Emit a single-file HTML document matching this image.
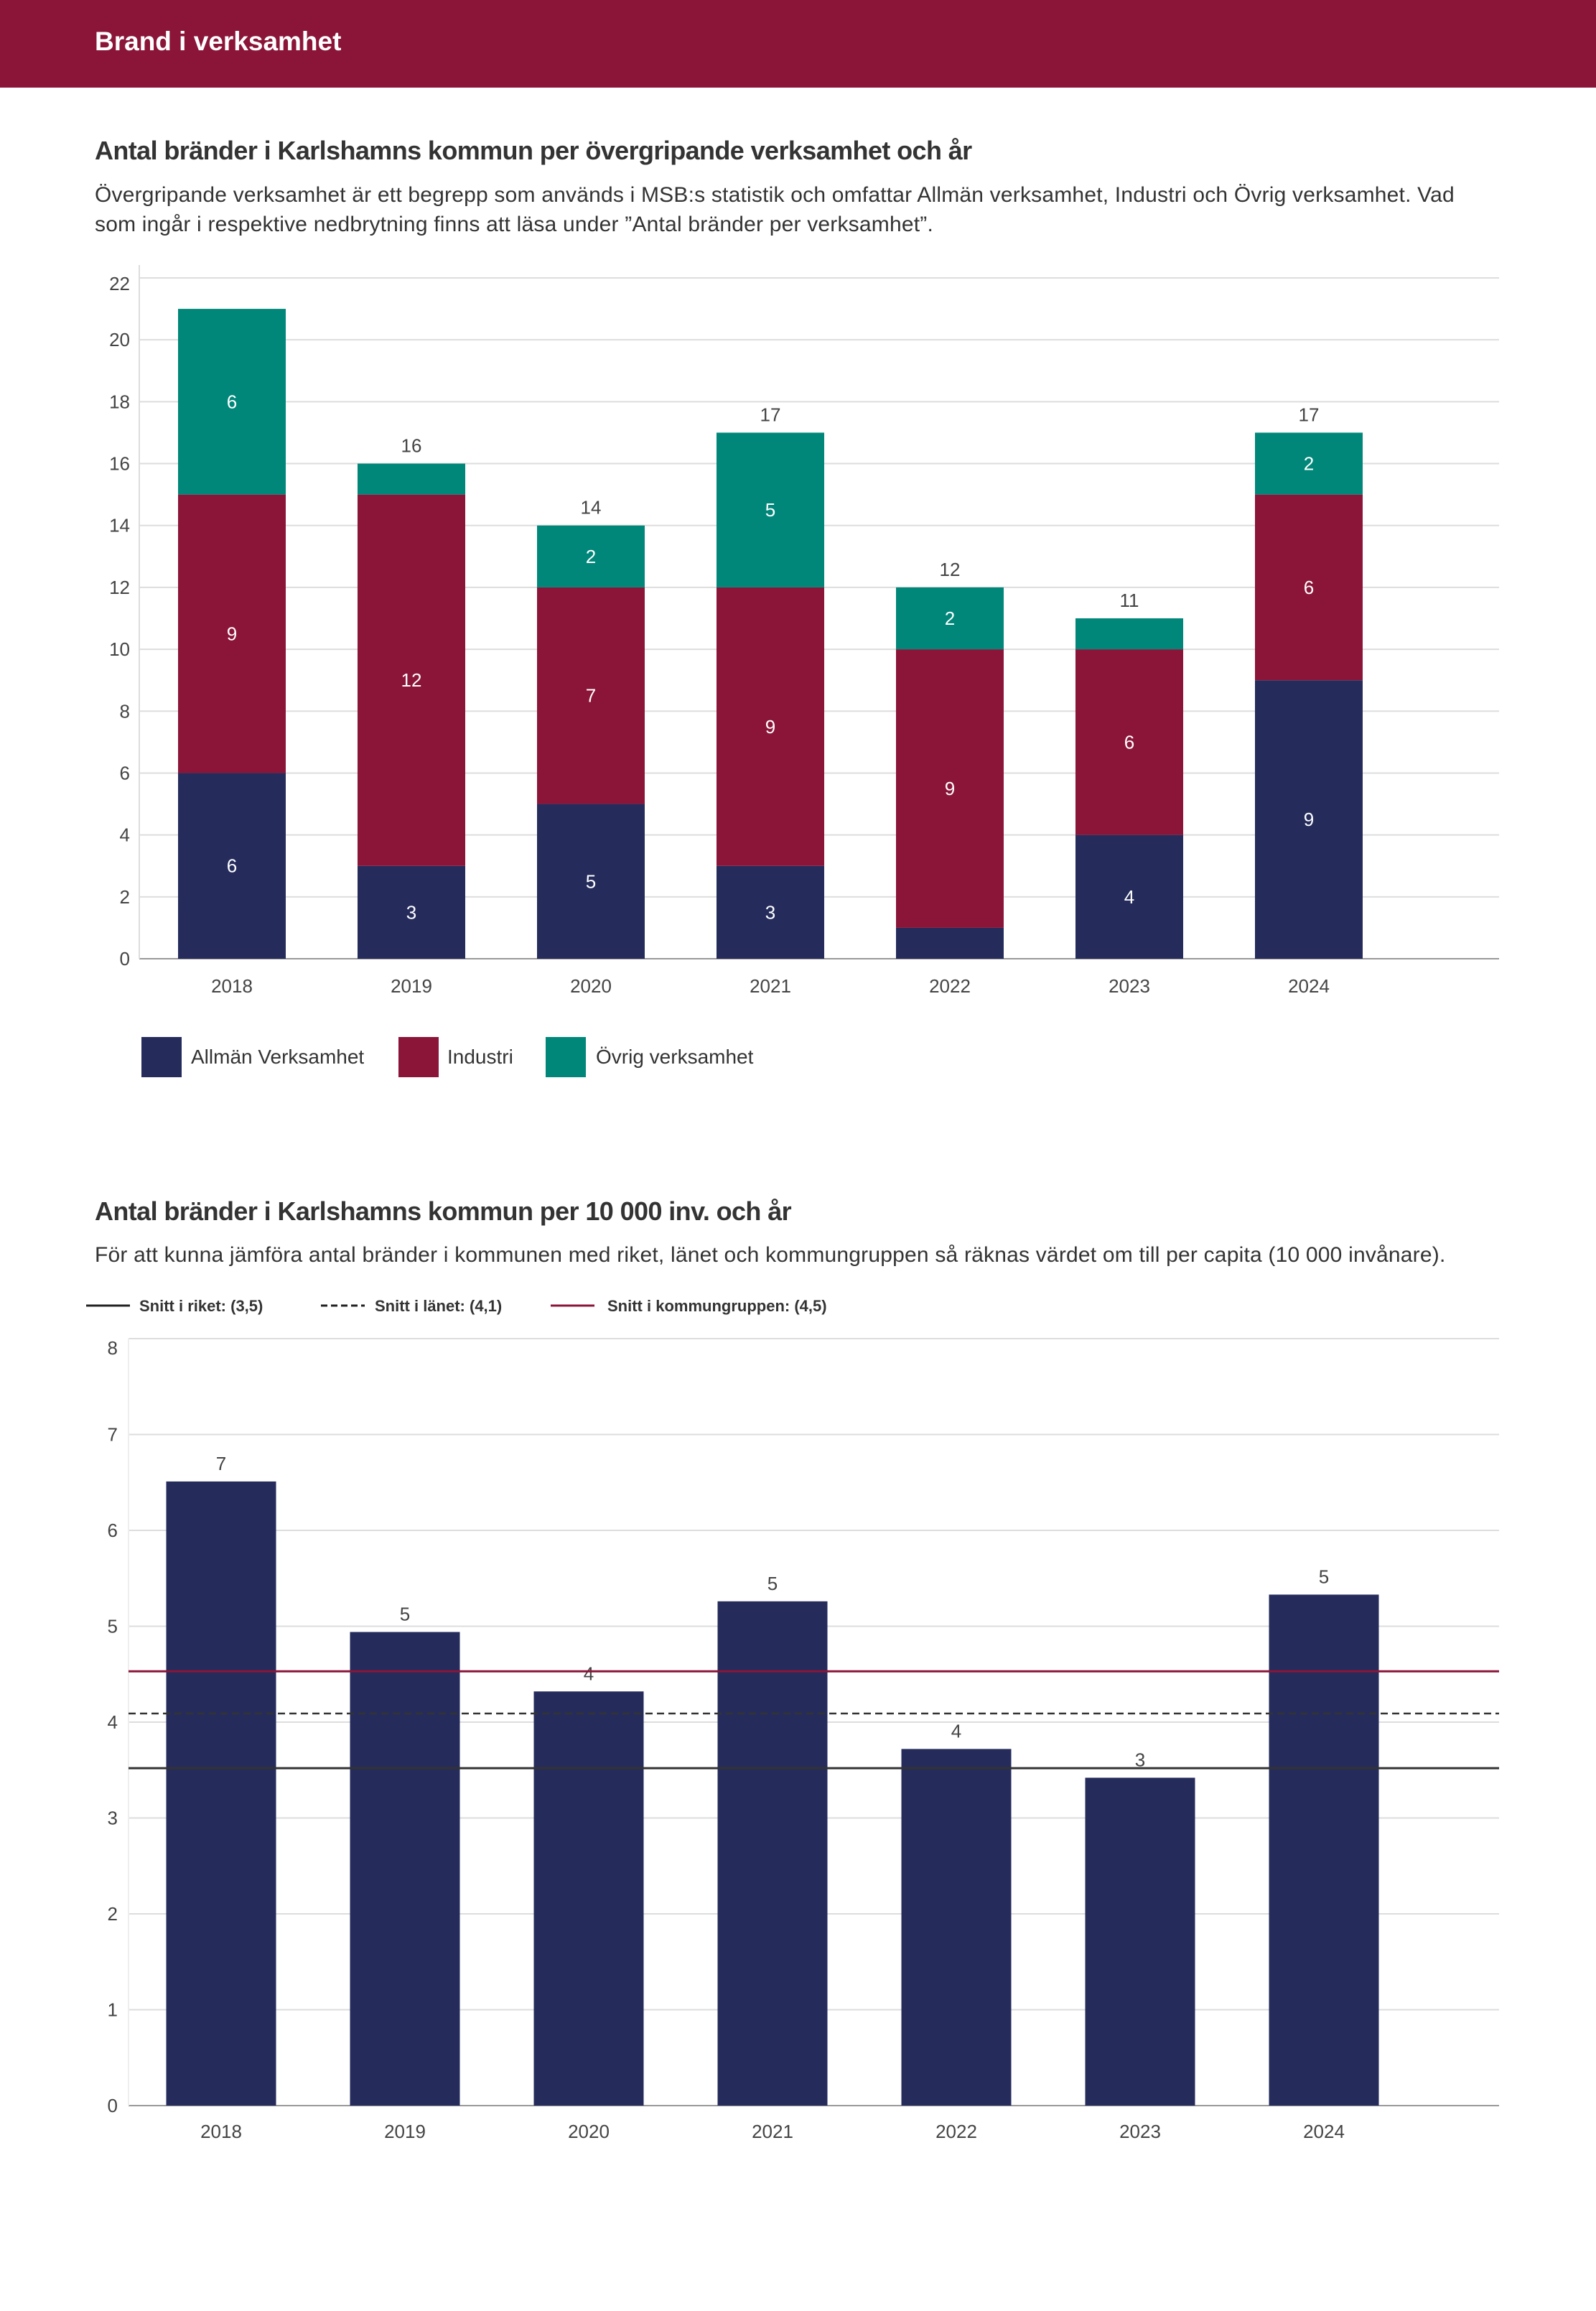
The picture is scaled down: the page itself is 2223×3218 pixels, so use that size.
<!DOCTYPE html>
<html><head><meta charset="utf-8"><style>
html,body{margin:0;padding:0;background:#fff;}
body{width:2223px;height:3213px;overflow:hidden;font-family:"Liberation Sans",sans-serif;}
text{font-family:"Liberation Sans",sans-serif;}
</style></head><body>
<svg id="svg" width="2223" height="3213" xmlns="http://www.w3.org/2000/svg">
<rect x="0" y="0" width="2223" height="122" fill="#8b1538"/>
<text x="132" y="70" font-size="37" font-weight="bold" fill="#fff">Brand i verksamhet</text>
<text x="132" y="222" font-size="36" font-weight="bold" fill="#333" letter-spacing="-0.6">Antal bränder i Karlshamns kommun per övergripande verksamhet och år</text>
<text x="132" y="281" font-size="30" fill="#333" letter-spacing="0.2">Övergripande verksamhet är ett begrepp som används i MSB:s statistik och omfattar Allmän verksamhet, Industri och Övrig verksamhet. Vad</text>
<text x="132" y="322" font-size="30" fill="#333" letter-spacing="0.2">som ingår i respektive nedbrytning finns att läsa under ”Antal bränder per verksamhet”.</text>
<g id="c1"></g>
<g id="leg1">
<rect x="197" y="1444" width="56" height="56" fill="#252c5c"/>
<text x="266" y="1481" font-size="28" fill="#333">Allmän Verksamhet</text>
<rect x="555" y="1444" width="56" height="56" fill="#8b1538"/>
<text x="623" y="1481" font-size="28" fill="#333">Industri</text>
<rect x="760" y="1444" width="56" height="56" fill="#00877a"/>
<text x="830" y="1481" font-size="28" fill="#333">Övrig verksamhet</text>
</g>
<text x="132" y="1699" font-size="36" font-weight="bold" fill="#333" letter-spacing="-0.6">Antal bränder i Karlshamns kommun per 10 000 inv. och år</text>
<text x="132" y="1757" font-size="30" fill="#333" letter-spacing="0.2">För att kunna jämföra antal bränder i kommunen med riket, länet och kommungruppen så räknas värdet om till per capita (10 000 invånare).</text>
<g>
<line x1="120" y1="1818" x2="181" y2="1818" stroke="#222" stroke-width="3"/>
<text x="194" y="1826" font-size="22" font-weight="bold" fill="#333">Snitt i riket: (3,5)</text>
<line x1="447" y1="1818" x2="508" y2="1818" stroke="#222" stroke-width="3" stroke-dasharray="9,5"/>
<text x="522" y="1826" font-size="22" font-weight="bold" fill="#333">Snitt i länet: (4,1)</text>
<line x1="767" y1="1818" x2="828" y2="1818" stroke="#8b1538" stroke-width="3"/>
<text x="846" y="1826" font-size="22" font-weight="bold" fill="#333">Snitt i kommungruppen: (4,5)</text>
</g>
<g id="c2"></g>
</svg>
<script>
const years = ["2018","2019","2020","2021","2022","2023","2024"];
const allman = [6,3,5,3,1,4,9];
const industri = [9,12,7,9,9,6,6];
const ovrig = [6,1,2,5,2,1,2];
const totalLabels = ["","16","14","17","12","11","17"];
const ticks1 = [0,2,4,6,8,10,12,14,16,18,20,22];
const perCapita = [6.51,4.94,4.32,5.26,3.72,3.42,5.33];
const perCapitaLabels = ["7","5","4","5","4","3","5"];
const ticks2 = [0,1,2,3,4,5,6,7,8];
const avgRiket = [3.52];
const avgLanet = [4.09];
const avgKommungrupp = [4.53];

const NS="http://www.w3.org/2000/svg";
function mk(parent,tag,attrs,txt){const e=document.createElementNS(NS,tag);for(const k in attrs)e.setAttribute(k,attrs[k]);if(txt!==undefined)e.textContent=txt;parent.appendChild(e);return e;}

// Chart 1
(function(){
const g=document.getElementById('c1');
const L=194,R=2088,B=1335,T=387,max=22;
const y=v=>B-(B-T)*v/max;
const bw=250, x0=198, x=i=>x0+bw*(i+0.5), w=150;
ticks1.forEach(t=>{
 const l=mk(g,'line',{x1:L,x2:R,y1:y(t),y2:y(t),stroke:t===0?'#999':'#ddd','stroke-width':2});
 
 
 const off=(t===max)?17:9;
 const tx=mk(g,'text',{x:181,y:y(t)+off,'font-size':26,fill:'#444','text-anchor':'end'},t);
 
 
});
mk(g,'line',{x1:L,x2:L,y1:T-18,y2:B,stroke:'#ddd','stroke-width':2});
const series=[[allman,'#252c5c','allman'],[industri,'#8b1538','industri'],[ovrig,'#00877a','ovrig']];
years.forEach((yr,i)=>{
 let base=0;
 series.forEach(([arr,col,nm])=>{
  const v=arr[i];
  const r=mk(g,'rect',{x:x(i)-w/2,y:y(base+v),width:w,height:y(base)-y(base+v),fill:col});
  
  
  if(v>=2){
   const t=mk(g,'text',{x:x(i),y:y(base+v/2)+9,'font-size':26,fill:'#fff','text-anchor':'middle'},v);
   
   
  }
  base+=v;
 });
 if(totalLabels[i]){
  const t=mk(g,'text',{x:x(i),y:y(base)-16,'font-size':26,fill:'#444','text-anchor':'middle'},totalLabels[i]);
  
  
 }
 const xl=mk(g,'text',{x:x(i),y:1382,'font-size':26,fill:'#444','text-anchor':'middle'},yr);
 
 
});
})();

// Chart 2
(function(){
const g=document.getElementById('c2');
const L=179,R=2088,B=2932,T=1864,max=8;
const y=v=>B-(B-T)*v/max;
const bw=256, x0=180, x=i=>x0+bw*(i+0.5), w=153;
ticks2.forEach(t=>{
 const l=mk(g,'line',{x1:L,x2:R,y1:y(t),y2:y(t),stroke:t===0?'#999':'#ddd','stroke-width':2});
 
 
 const off=(t===max)?22:9;
 const tx=mk(g,'text',{x:164,y:y(t)+off,'font-size':26,fill:'#444','text-anchor':'end'},t);
 
 
});
mk(g,'line',{x1:L,x2:L,y1:T,y2:B,stroke:'#eee','stroke-width':2});
years.forEach((yr,i)=>{
 const v=perCapita[i];
 const r=mk(g,'rect',{x:x(i)-w/2,y:y(v),width:w,height:B-y(v),fill:'#252c5c'});
 
 
 const t=mk(g,'text',{x:x(i),y:y(v)-16,'font-size':26,fill:'#444','text-anchor':'middle'},perCapitaLabels[i]);
 
 
 const xl=mk(g,'text',{x:x(i),y:2977,'font-size':26,fill:'#444','text-anchor':'middle'},yr);
 
 
});
const l1=mk(g,'line',{x1:L,x2:R,y1:y(avgKommungrupp[0]),y2:y(avgKommungrupp[0]),stroke:'#8b1538','stroke-width':3});


const l2=mk(g,'line',{x1:L,x2:R,y1:y(avgLanet[0]),y2:y(avgLanet[0]),stroke:'#333','stroke-width':2.5,'stroke-dasharray':'10,6'});


const l3=mk(g,'line',{x1:L,x2:R,y1:y(avgRiket[0]),y2:y(avgRiket[0]),stroke:'#333','stroke-width':3});


})();
</script>
</body></html>
